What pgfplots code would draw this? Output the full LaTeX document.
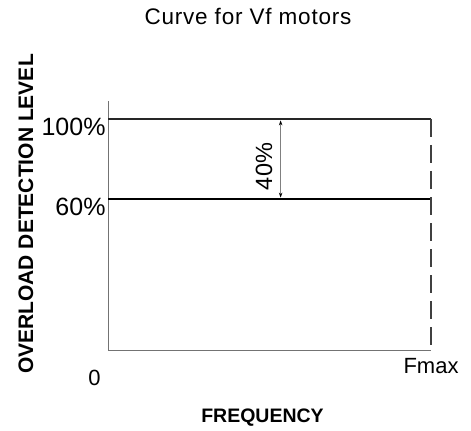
\documentclass[border=0pt]{standalone}
\usepackage{fontspec}
\setmainfont{Liberation Sans}
\usepackage{pgfplots}
\pgfplotsset{compat=1.18}
\usetikzlibrary{arrows.meta}
\begin{document}
\begin{tikzpicture}[x=1bp,y=1bp]
\useasboundingbox (0,0) rectangle (471,430);
\begin{axis}[
  at={(108.3bp,79.3bp)}, anchor=south west,
  scale only axis, width=322.7bp, height=249.7bp,
  xmin=0, xmax=1, ymin=-15.85, ymax=109,
  axis x line=bottom, axis y line=left,
  axis line style={-, draw=black!55, line width=0.9bp},
  xtick=\empty, ytick=\empty,
  clip=false,
]
\addplot[black!85, line width=2bp] coordinates {(0,100) (1,100)};
\addplot[black, line width=2.2bp] coordinates {(0,60) (1,60)};
\addplot[black!75, line width=1.1bp, dash pattern=on 18bp off 8bp] coordinates {(1,100) (1,-15.85)};
\addplot[black!50, line width=0.8bp, {Stealth[length=5bp,width=3.5bp,black]}-{Stealth[length=5bp,width=3.5bp,black]}] coordinates {(0.534,99.3) (0.534,60.7)};
\end{axis}
% texts
\node[anchor=base, inner sep=0pt] at (248,405) {\fontsize{22.5bp}{26bp}\selectfont\addfontfeatures{LetterSpace=3.5}Curve for Vf motors};
\node[anchor=base, inner sep=0pt] at (262.5,8) {\fontsize{19.5bp}{23bp}\selectfont\bfseries FREQUENCY};
\node[anchor=base, inner sep=0pt, rotate=90] at (33,216) {\fontsize{21bp}{25bp}\selectfont\bfseries OVERLOAD DETECTION LEVEL};
\node[anchor=base east, inner sep=0pt] at (105.7,295) {\fontsize{25bp}{29bp}\selectfont 100\%};
\node[anchor=base east, inner sep=0pt] at (105.7,214.5) {\fontsize{25bp}{29bp}\selectfont 60\%};
\node[anchor=base, inner sep=0pt] at (94.5,45) {\fontsize{22bp}{26bp}\selectfont 0};
\node[anchor=base, inner sep=0pt] at (431,57) {\fontsize{22bp}{26bp}\selectfont Fmax};
\node[anchor=base, inner sep=0pt, rotate=90] at (272,263.5) {\fontsize{23.5bp}{27bp}\selectfont 40\%};
\end{tikzpicture}
\end{document}
